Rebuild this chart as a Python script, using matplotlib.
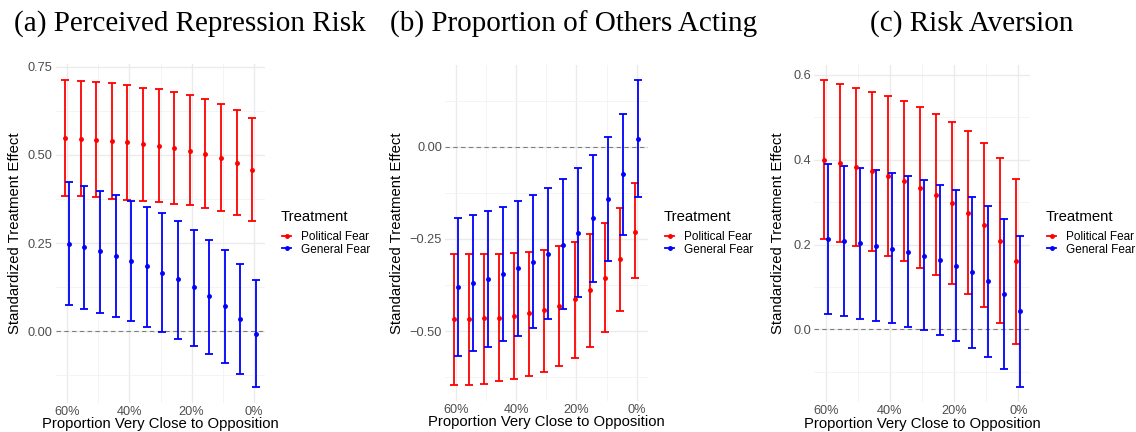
import matplotlib
matplotlib.use("Agg")
import matplotlib.pyplot as plt
import numpy as np
from matplotlib.lines import Line2D
from matplotlib.ticker import FixedLocator, FuncFormatter

# share of respondents very close to the opposition (x axis, shown reversed)
share = [0.60, 0.55, 0.50, 0.45, 0.40, 0.35, 0.30, 0.25, 0.20, 0.15, 0.10, 0.05, 0.00]

# (a) Perceived Repression Risk
a_pol_est = [0.548, 0.545, 0.543, 0.540, 0.536, 0.531, 0.526, 0.520, 0.512, 0.504, 0.492, 0.478, 0.458]
a_pol_lo = [0.384, 0.383, 0.380, 0.376, 0.373, 0.370, 0.366, 0.362, 0.357, 0.349, 0.340, 0.329, 0.312]
a_pol_hi = [0.714, 0.710, 0.706, 0.703, 0.698, 0.691, 0.686, 0.678, 0.670, 0.658, 0.646, 0.629, 0.605]
a_gen_est = [0.248, 0.238, 0.227, 0.214, 0.199, 0.184, 0.166, 0.147, 0.125, 0.099, 0.071, 0.034, -0.009]
a_gen_lo = [0.073, 0.063, 0.052, 0.040, 0.028, 0.012, -0.003, -0.022, -0.042, -0.064, -0.091, -0.122, -0.159]
a_gen_hi = [0.423, 0.411, 0.399, 0.385, 0.368, 0.353, 0.334, 0.313, 0.288, 0.260, 0.229, 0.191, 0.145]

# (b) Proportion of Others Acting
b_pol_est = [-0.468, -0.467, -0.465, -0.463, -0.458, -0.452, -0.442, -0.431, -0.413, -0.389, -0.356, -0.305, -0.230]
b_pol_lo = [-0.647, -0.645, -0.642, -0.636, -0.630, -0.622, -0.611, -0.595, -0.573, -0.544, -0.503, -0.444, -0.356]
b_pol_hi = [-0.292, -0.292, -0.292, -0.291, -0.288, -0.284, -0.279, -0.270, -0.257, -0.236, -0.208, -0.166, -0.099]
b_gen_est = [-0.380, -0.369, -0.358, -0.345, -0.330, -0.312, -0.291, -0.266, -0.234, -0.194, -0.143, -0.075, 0.022]
b_gen_lo = [-0.566, -0.554, -0.542, -0.527, -0.512, -0.491, -0.468, -0.440, -0.407, -0.366, -0.311, -0.240, -0.137]
b_gen_hi = [-0.194, -0.184, -0.173, -0.162, -0.147, -0.131, -0.111, -0.088, -0.058, -0.022, 0.026, 0.090, 0.181]

# (c) Risk Aversion
c_pol_est = [0.400, 0.392, 0.383, 0.373, 0.362, 0.349, 0.334, 0.318, 0.298, 0.275, 0.246, 0.209, 0.160]
c_pol_lo = [0.214, 0.205, 0.196, 0.185, 0.173, 0.161, 0.145, 0.128, 0.106, 0.083, 0.053, 0.016, -0.035]
c_pol_hi = [0.587, 0.579, 0.570, 0.560, 0.550, 0.538, 0.524, 0.508, 0.489, 0.467, 0.439, 0.403, 0.355]
c_gen_est = [0.212, 0.208, 0.203, 0.197, 0.190, 0.183, 0.174, 0.164, 0.150, 0.134, 0.113, 0.083, 0.042]
c_gen_lo = [0.035, 0.031, 0.025, 0.020, 0.014, 0.006, -0.002, -0.014, -0.027, -0.044, -0.065, -0.094, -0.135]
c_gen_hi = [0.389, 0.385, 0.381, 0.375, 0.369, 0.361, 0.352, 0.341, 0.329, 0.312, 0.291, 0.261, 0.219]

titles = ["(a) Perceived Repression Risk", "(b) Proportion of Others Acting", "(c) Risk Aversion"]
treatments = ["Political Fear", "General Fear"]
x_ticks = [0.6, 0.4, 0.2, 0.0]

W, H = 1136, 432
fig = plt.figure(figsize=(W / 100, H / 100), dpi=100)
plt.rcParams["font.family"] = ["Liberation Sans", "DejaVu Sans"]


def px(x0, y0, x1, y1):
    # pixel box (top-left origin) -> figure fraction rect
    return [x0 / W, 1 - y1 / H, (x1 - x0) / W, (y1 - y0) / H]


panels = [
    dict(
        box=(55.6, 64.2, 265.4, 402.5), yticks=[0.0, 0.25, 0.5, 0.75], fmt="{:.2f}",
        data=(a_pol_est, a_pol_lo, a_pol_hi, a_gen_est, a_gen_lo, a_gen_hi),
        title_x=190, ylab_x=15, leg_x=281,
    ),
    dict(
        box=(444.7, 64.7, 647.7, 400.7), yticks=[-0.5, -0.25, 0.0], fmt="{:.2f}",
        data=(b_pol_est, b_pol_lo, b_pol_hi, b_gen_est, b_gen_lo, b_gen_hi),
        title_x=574, ylab_x=397, leg_x=664,
    ),
    dict(
        box=(814, 65.2, 1030, 401.8), yticks=[0.0, 0.2, 0.4, 0.6], fmt="{:.1f}",
        data=(c_pol_est, c_pol_lo, c_pol_hi, c_gen_est, c_gen_lo, c_gen_hi),
        title_x=972, ylab_x=778, leg_x=1046,
    ),
]

RED, BLUE = "#FF0000", "#0000FF"
dodge = 0.006
x = np.array(share)

for p, title in zip(panels, titles):
    ax = fig.add_axes(px(*p["box"]))
    pe, pl, ph, ge, gl, gh = [np.array(v) for v in p["data"]]
    for xs, est, lo, hi, col in [(x + dodge, pe, pl, ph, RED), (x - dodge, ge, gl, gh, BLUE)]:
        ax.errorbar(xs, est, yerr=[est - lo, hi - est], fmt="o", color=col, ms=2.5,
                    elinewidth=1.3, capsize=2.6, capthick=1.3, zorder=3)
    ax.axhline(0, color="#7F7F7F", ls=(0, (4, 3)), lw=0.8, zorder=2)

    lo_all = min(pl.min(), gl.min())
    hi_all = max(ph.max(), gh.max())
    pad = 0.05 * (hi_all - lo_all)
    ax.set_ylim(lo_all - pad, hi_all + pad)
    xpad = 0.05 * (0.6 + 2 * dodge)
    ax.set_xlim(0.6 + dodge + xpad, -dodge - xpad)

    yt = p["yticks"]
    step = yt[1] - yt[0]
    minor_y = [v + step / 2 for v in [yt[0] - step] + yt]
    ax.yaxis.set_major_locator(FixedLocator(yt))
    ax.yaxis.set_minor_locator(FixedLocator(minor_y))
    ax.yaxis.set_major_formatter(FuncFormatter(lambda v, _, f=p["fmt"]: f.format(v).replace("-", "\u2212")))
    ax.xaxis.set_major_locator(FixedLocator(x_ticks))
    ax.xaxis.set_minor_locator(FixedLocator([0.5, 0.3, 0.1]))
    ax.xaxis.set_major_formatter(FuncFormatter(lambda v, _: f"{v * 100:.0f}%"))

    ax.grid(which="major", color="#EBEBEB", lw=1.0, zorder=0)
    ax.grid(which="minor", color="#F2F2F2", lw=0.6, zorder=0)
    ax.set_axisbelow(True)
    for s in ax.spines.values():
        s.set_visible(False)
    ax.tick_params(which="both", length=0, labelsize=9.2, labelcolor="#4D4D4D", pad=2)
    ax.tick_params(axis="x", pad=2.5)

    ax.set_xlabel("Proportion Very Close to Opposition", fontsize=10.7, labelpad=-0.5)
    fig.text(p["ylab_x"] / W, 1 - (p["box"][1] + p["box"][3]) / 2 / H,
             "Standardized Treatment Effect", rotation=90, fontsize=10.7,
             ha="center", va="center")
    fig.text(p["title_x"] / W, 1 - 24 / H, title, fontsize=21,
             family=["Liberation Serif", "DejaVu Serif"], ha="center", va="center")

    # legend: title drawn separately so the gap above the keys matches
    fig.text(p["leg_x"] / W, 1 - 217 / H, "Treatment", fontsize=10.7,
             ha="left", va="center")
    handles = [Line2D([], [], color=c, marker="o", ms=2.5, lw=1.3) for c in (RED, BLUE)]
    fig.legend(handles, treatments, loc="upper left",
               bbox_to_anchor=((p["leg_x"] + 1) / W, 1 - 231 / H), frameon=False,
               fontsize=8.5, handlelength=0.8, handletextpad=0.85, labelspacing=0.05,
               borderpad=0, borderaxespad=0)

fig.savefig("out.png", dpi=100)
